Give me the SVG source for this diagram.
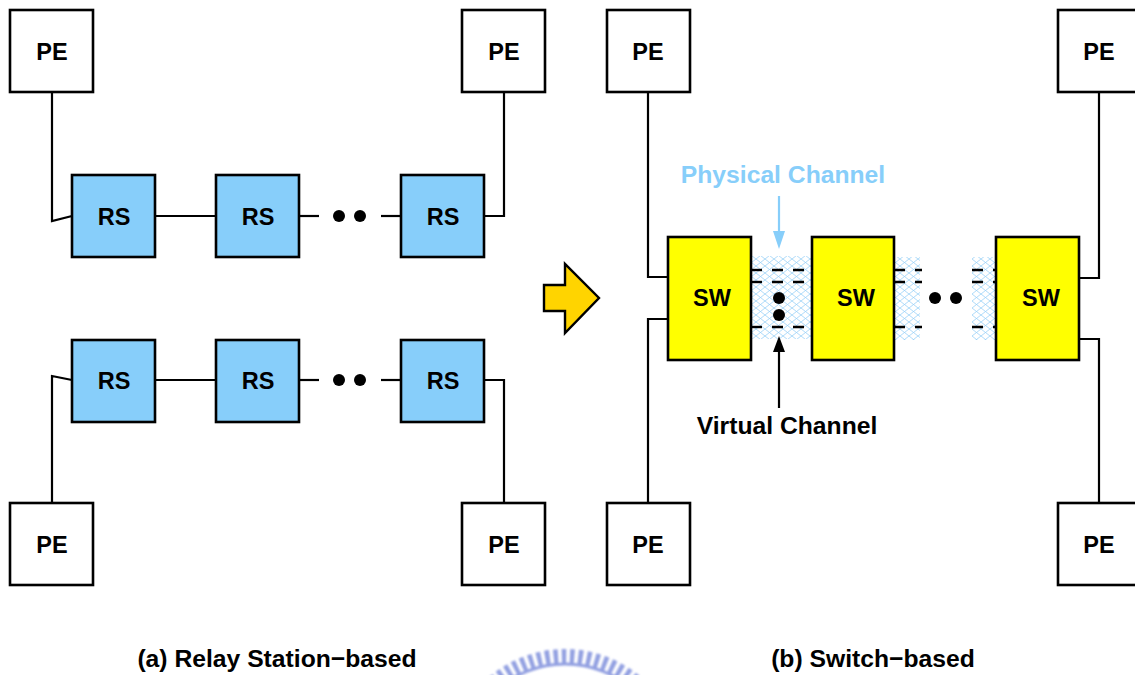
<svg xmlns="http://www.w3.org/2000/svg" width="1135" height="675" viewBox="0 0 1135 675">
  <style>
    .box { stroke: #000; stroke-width: 2.6; }
    .pe { fill: #fff; }
    .rs { fill: #87CEFA; }
    .sw { fill: #FFFF00; }
    .lbl { font-family: "Liberation Sans", Arial, sans-serif; font-weight: bold; font-size: 23.5px; text-anchor: middle; fill: #000; }
    .cap { font-family: "Liberation Sans", Arial, sans-serif; font-weight: bold; font-size: 24.7px; text-anchor: middle; fill: #000; }
    .wire { fill: none; stroke: #000; stroke-width: 2.2; }
    .vc { fill: none; stroke: #000; stroke-width: 2.4; stroke-dasharray: 11 10; }
    .dot { fill: #000; }
  </style>
  <defs>
    <pattern id="mesh" width="9" height="7" patternUnits="userSpaceOnUse">
      <path d="M0,0 L9,7 M9,0 L0,7" stroke="#9ad2f8" stroke-width="0.8" fill="none"/>
    </pattern>
    <filter id="soft" x="-10%" y="-10%" width="120%" height="120%">
      <feGaussianBlur stdDeviation="0.9"/>
    </filter>
  </defs>

  <!-- physical channel meshes -->
  <g id="channels">
    <rect x="751" y="256" width="61" height="83" fill="url(#mesh)"/>
    <rect x="894" y="257" width="26" height="83" fill="url(#mesh)"/>
    <rect x="972" y="257" width="24" height="83" fill="url(#mesh)"/>
  </g>

  <!-- connectors -->
  <g id="connectors">
    <!-- relay station, upper row -->
    <path class="wire" d="M52,92 L52,221 L72,216"/>
    <path class="wire" d="M155,216 L216,216"/>
    <path class="wire" d="M299,216 L319,216"/>
    <path class="wire" d="M381,216 L401,216"/>
    <path class="wire" d="M484,216 L504,216 L504,92"/>
    <circle class="dot" cx="339" cy="216" r="6"/>
    <circle class="dot" cx="360" cy="216" r="6"/>
    <!-- relay station, lower row -->
    <path class="wire" d="M52,503 L52,376 L72,380"/>
    <path class="wire" d="M155,380 L216,380"/>
    <path class="wire" d="M299,380 L319,380"/>
    <path class="wire" d="M381,380 L401,380"/>
    <path class="wire" d="M484,380 L504,380 L504,503"/>
    <circle class="dot" cx="339" cy="380" r="6"/>
    <circle class="dot" cx="360" cy="380" r="6"/>

    <!-- switch-based -->
    <path class="wire" d="M648,92 L648,277 L667,277"/>
    <path class="wire" d="M667,319 L648,319 L648,507"/>
    <path class="wire" d="M1079,278 L1099,278 L1099,92"/>
    <path class="wire" d="M1079,339 L1099,339 L1099,503"/>

    <!-- virtual channels -->
    <path class="vc" d="M751,270 L812,270"/>
    <path class="vc" d="M751,282 L812,282"/>
    <path class="vc" d="M751,327 L812,327"/>
    <path class="vc" d="M894,270 L922,270"/>
    <path class="vc" d="M894,282 L922,282"/>
    <path class="vc" d="M894,327 L922,327"/>
    <path class="vc" d="M972,270 L996,270"/>
    <path class="vc" d="M972,282 L996,282"/>
    <path class="vc" d="M972,327 L996,327"/>
    <circle class="dot" cx="779" cy="298" r="6"/>
    <circle class="dot" cx="779" cy="315" r="6"/>
    <circle class="dot" cx="935" cy="298" r="6"/>
    <circle class="dot" cx="956" cy="298" r="6"/>

    <!-- channel pointers -->
    <path d="M779,196 L779,234" stroke="#87CEFA" stroke-width="2.2" fill="none"/>
    <path d="M773,231 L779,249 L785,231 Z" fill="#87CEFA"/>
    <path d="M779,408 L779,350" stroke="#000" stroke-width="2.2" fill="none"/>
    <path d="M773,352 L779,336 L785,352 Z" fill="#000"/>
  </g>

  <!-- processing elements -->
  <g id="pe-a-top-left"><rect class="box pe" x="10" y="10" width="83" height="82"/><text class="lbl" x="52" y="60">PE</text></g>
  <g id="pe-a-top-right"><rect class="box pe" x="462" y="10" width="83" height="82"/><text class="lbl" x="504" y="60">PE</text></g>
  <g id="pe-a-bottom-left"><rect class="box pe" x="10" y="503" width="83" height="82"/><text class="lbl" x="52" y="553">PE</text></g>
  <g id="pe-a-bottom-right"><rect class="box pe" x="462" y="503" width="83" height="82"/><text class="lbl" x="504" y="553">PE</text></g>
  <g id="pe-b-top-left"><rect class="box pe" x="607" y="10" width="83" height="82"/><text class="lbl" x="648" y="60">PE</text></g>
  <g id="pe-b-top-right"><rect class="box pe" x="1058" y="10" width="83" height="82"/><text class="lbl" x="1099" y="60">PE</text></g>
  <g id="pe-b-bottom-left"><rect class="box pe" x="607" y="503" width="83" height="82"/><text class="lbl" x="648" y="553">PE</text></g>
  <g id="pe-b-bottom-right"><rect class="box pe" x="1058" y="503" width="83" height="82"/><text class="lbl" x="1099" y="553">PE</text></g>

  <!-- relay stations -->
  <g id="rs-top-1"><rect class="box rs" x="72" y="175" width="83" height="82"/><text class="lbl" x="114" y="225">RS</text></g>
  <g id="rs-top-2"><rect class="box rs" x="216" y="175" width="83" height="82"/><text class="lbl" x="258" y="225">RS</text></g>
  <g id="rs-top-3"><rect class="box rs" x="401" y="175" width="83" height="82"/><text class="lbl" x="443" y="225">RS</text></g>
  <g id="rs-bottom-1"><rect class="box rs" x="72" y="340" width="83" height="82"/><text class="lbl" x="114" y="389">RS</text></g>
  <g id="rs-bottom-2"><rect class="box rs" x="216" y="340" width="83" height="82"/><text class="lbl" x="258" y="389">RS</text></g>
  <g id="rs-bottom-3"><rect class="box rs" x="401" y="340" width="83" height="82"/><text class="lbl" x="443" y="389">RS</text></g>

  <!-- switches -->
  <g id="sw-1"><rect class="box sw" x="668" y="237" width="83" height="123"/><text class="lbl" x="712" y="306">SW</text></g>
  <g id="sw-2"><rect class="box sw" x="812" y="237" width="82" height="123"/><text class="lbl" x="856" y="306">SW</text></g>
  <g id="sw-3"><rect class="box sw" x="996" y="237" width="83" height="123"/><text class="lbl" x="1041" y="306">SW</text></g>

  <!-- transition arrow -->
  <g id="arrow">
    <path d="M544,285 L565,285 L565,264 L599,298 L565,333 L565,311 L544,311 Z" fill="#FFD400" stroke="#000" stroke-width="2.4" stroke-linejoin="miter"/>
  </g>

  <!-- labels -->
  <g id="labels">
    <text class="cap" x="783" y="183" style="fill:#87CEFA">Physical Channel</text>
    <text class="cap" x="787" y="434">Virtual Channel</text>
    <text class="cap" x="277" y="667">(a) Relay Station−based</text>
    <text class="cap" x="873" y="667">(b) Switch−based</text>
  </g>

  <!-- seal at the bottom edge -->
  <g id="seal" filter="url(#soft)" opacity="0.85">
    <circle cx="565" cy="766" r="110" fill="none" stroke="#7f8fdc" stroke-width="14" stroke-dasharray="4.5 3.8"/>
    <circle cx="565" cy="766" r="102" fill="none" stroke="#7f8fdc" stroke-width="3"/>
  </g>
</svg>
